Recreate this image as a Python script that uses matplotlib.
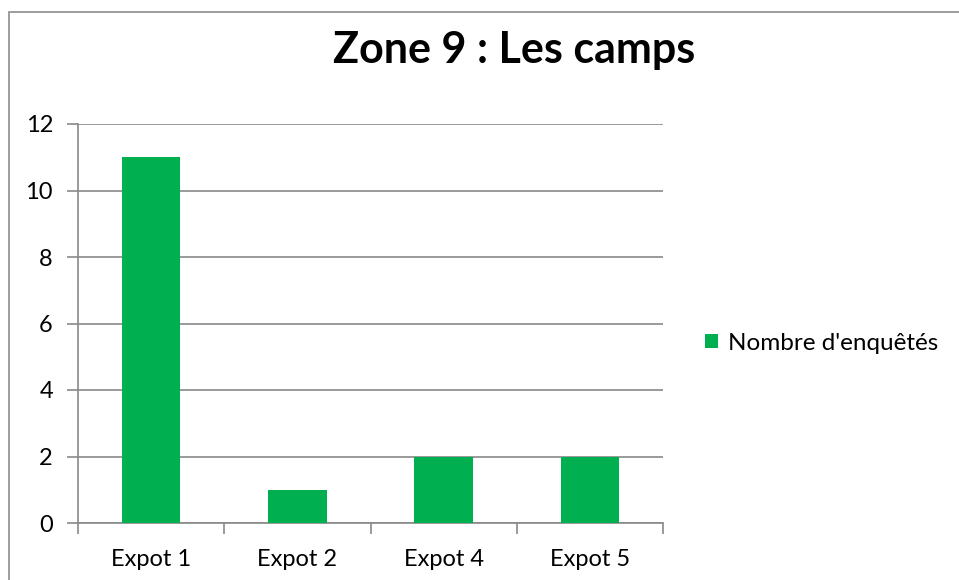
import matplotlib
matplotlib.use("Agg")
import matplotlib.pyplot as plt
from matplotlib.patches import Rectangle

categories = ["Expot 1", "Expot 2", "Expot 4", "Expot 5"]
values = [11, 1, 2, 2]
series_name = "Nombre d'enquêtés"
title = "Zone 9 : Les camps"
yticks = [0, 2, 4, 6, 8, 10, 12]

plt.rcParams['font.family'] = ['Lato', 'DejaVu Sans']

fig = plt.figure(figsize=(9.59, 5.80), dpi=100)
fig.patch.set_facecolor("white")
# outer chart border
fig.patches.append(Rectangle((9/959, -0.05), 1.2, 1 - 12/580 + 0.05, transform=fig.transFigure,
                             fill=False, edgecolor="#8c8c8c", linewidth=1.2))

ax = fig.add_axes([78/959, 1 - 523/580, (663 - 78)/959, (523 - 124)/580])
x = list(range(len(categories)))
bars = ax.bar(x, values, width=0.4, color="#00B050", label=series_name, zorder=3)

ax.set_xlim(-0.5, len(categories) - 0.5)
ax.set_ylim(0, 12)
ax.set_yticks(yticks)
ax.set_yticklabels([str(t) for t in yticks], fontsize=17)
ax.yaxis.grid(True, color="#898989", linewidth=1.2, zorder=0)
ax.set_axisbelow(True)

ax.set_xticks(x)
ax.set_xticklabels(categories, fontsize=17)
ax.tick_params(axis="x", length=0, pad=19)
ax.set_xticks([i - 0.5 for i in range(len(categories) + 1)], minor=True)
ax.tick_params(axis="x", which="minor", length=8, width=1.2, color="#898989", direction="out")
ax.tick_params(axis="y", length=8, width=1.2, color="#898989", pad=10)

for s in ["top", "right"]:
    ax.spines[s].set_visible(False)
for s in ["left", "bottom"]:
    ax.spines[s].set_color("#898989")
    ax.spines[s].set_linewidth(1.2)

fig.text(514/959, 1 - 50/580, title, ha="center", va="center", fontsize=31, fontweight="bold")

fig.legend(handles=[bars], labels=[series_name], loc="center left",
           bbox_to_anchor=(705/959, 1 - 343/580), frameon=False, fontsize=17.5,
           handlelength=0.55, handleheight=0.55, handletextpad=0.4, borderpad=0, borderaxespad=0)

fig.savefig("out.png", dpi=100)
